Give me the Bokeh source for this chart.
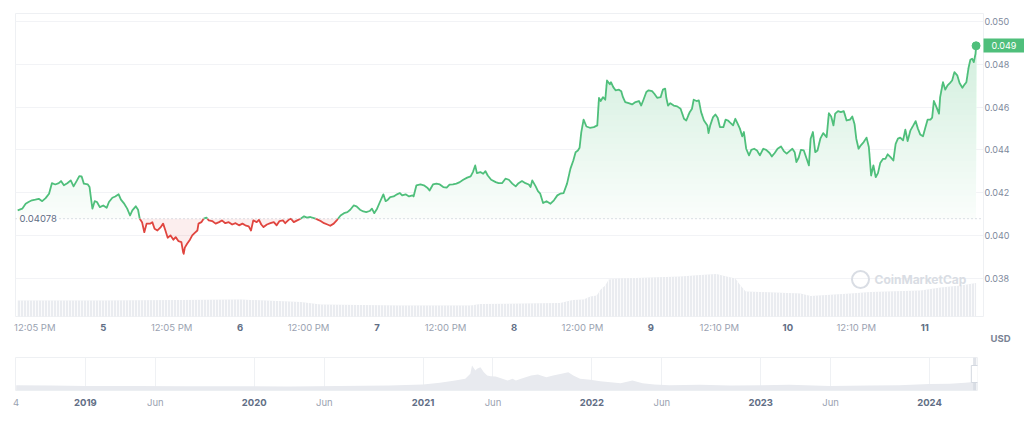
import numpy as np
from bokeh.plotting import figure
from bokeh.models import (Range1d, FixedTicker, Label, Span, NumeralTickFormatter,
                          LinearAxis, Grid, Title)
from bokeh.layouts import column
from bokeh.embed import file_html
from bokeh.resources import INLINE

FONT = "Inter"
GREEN = "#4fbf7b"
RED = "#e0453f"
LIGHT_TXT = "#9aa2b1"
DARK_TXT = "#616e85"

# ---- main chart data: hours since Apr 4 00:00, price in USD ----
hours = [
    9.0, 9.8, 10.4, 10.9, 11.5, 12.1, 12.7, 13.3, 13.9, 14.5,
    15.0, 15.6, 16.2, 16.6, 17.1, 17.7, 18.3, 18.8, 19.4, 19.8,
    20.2, 20.6, 21.3, 21.6, 21.9, 22.1, 22.5, 22.9, 23.4, 24.0,
    24.6, 25.0, 25.6, 26.1, 26.7, 27.1, 27.6, 28.2, 28.7, 29.1,
    29.7, 30.1, 30.4, 30.8, 31.2, 31.6, 32.2, 32.6, 33.0, 33.5,
    34.0, 34.5, 34.9, 35.3, 35.8, 36.3, 36.7, 37.2, 37.7, 38.0,
    38.1, 38.3, 38.7, 39.2, 39.6, 40.0, 40.5, 40.7, 41.2, 41.6,
    42.1, 42.5, 43.1, 43.7, 44.3, 44.8, 45.4, 46.0, 46.6, 47.2,
    47.8, 48.4, 48.9, 49.5, 49.9, 50.3, 50.9, 51.3, 51.7, 52.1,
    52.7, 53.3, 53.9, 54.4, 54.9, 55.5, 55.9, 56.5, 56.9, 57.4,
    58.0, 58.6, 59.2, 59.7, 60.3, 60.9, 61.5, 62.1, 62.7, 63.3,
    63.8, 64.4, 65.0, 65.6, 66.2, 66.8, 67.3, 67.9, 68.4, 69.0,
    69.6, 70.1, 70.7, 71.1, 71.5, 72.0, 72.5, 73.1, 73.5, 73.9,
    74.3, 74.9, 75.5, 76.0, 76.4, 77.0, 77.6, 78.2, 78.4, 78.9,
    79.6, 80.2, 80.8, 81.2, 81.8, 82.4, 83.0, 83.6, 84.2, 84.7,
    85.3, 85.9, 86.5, 87.1, 87.8, 88.4, 88.8, 89.2, 89.5, 90.1,
    90.6, 91.0, 91.4, 92.0, 92.8, 93.3, 93.9, 94.5, 95.1, 95.7,
    96.3, 96.8, 97.4, 98.0, 98.6, 98.9, 99.2, 99.8, 100.2, 100.6,
    101.1, 101.7, 102.4, 103.0, 103.6, 104.1, 104.7, 105.3, 105.9, 106.4,
    106.8, 107.2, 107.5, 107.8, 108.2, 108.7, 109.3, 110.0, 110.6, 110.9,
    111.2, 111.6, 112.0, 112.3, 112.8, 113.0, 113.4, 113.8, 114.4, 114.8,
    115.1, 115.5, 116.1, 116.7, 117.3, 117.9, 118.3, 118.7, 119.2, 119.6,
    120.2, 120.6, 121.1, 121.7, 122.1, 122.5, 122.7, 123.0, 123.4, 124.0,
    124.6, 125.2, 125.8, 126.2, 126.8, 127.2, 127.5, 128.0, 128.4, 128.8,
    129.3, 129.9, 130.1, 130.4, 130.9, 131.3, 131.7, 132.1, 132.7, 133.1,
    133.5, 133.8, 134.4, 134.8, 135.2, 135.6, 136.0, 136.3, 136.7, 137.2,
    137.6, 138.1, 138.6, 139.1, 139.7, 140.2, 140.8, 141.2, 141.7, 142.2,
    142.8, 143.3, 143.8, 144.3, 144.8, 145.2, 145.5, 145.9, 146.3, 146.8,
    147.3, 147.7, 148.0, 148.4, 148.8, 149.2, 149.7, 150.2, 150.8, 151.2,
    151.6, 152.0, 152.3, 152.8, 153.3, 153.8, 154.3, 154.9, 155.3, 155.7,
    156.0, 156.4, 156.8, 157.3, 157.8, 158.2, 158.6, 159.0, 159.4, 159.8,
    160.2, 160.7, 161.1, 161.5, 162.0, 162.5, 162.9, 163.3, 163.7, 164.2,
    164.6, 165.0, 165.5, 166.0, 166.4, 166.8, 167.2, 167.7, 168.1, 168.5,
    169.0, 169.3, 169.6, 170.0, 170.5, 170.7, 171.2, 171.6, 172.0, 172.4,
    172.8, 173.2, 173.7, 174.1, 174.6, 175.0, 175.3, 175.7, 176.0, 176.3,
    176.6, 176.9, 177.0,
]
price = [
    0.04117, 0.04125, 0.04148, 0.04156, 0.04164, 0.04167, 0.04171, 0.04160, 0.04174, 0.04195,
    0.04244, 0.04238, 0.04244, 0.04254, 0.04234, 0.04244, 0.04257, 0.04229, 0.04257, 0.04277,
    0.04276, 0.04242, 0.04238, 0.04226, 0.04164, 0.04125, 0.04160, 0.04156, 0.04132, 0.04140,
    0.04129, 0.04156, 0.04176, 0.04182, 0.04192, 0.04167, 0.04151, 0.04125, 0.04093, 0.04117,
    0.04136, 0.04120, 0.04078, 0.04062, 0.04015, 0.04055, 0.04055, 0.04062, 0.04031, 0.04023,
    0.04036, 0.04055, 0.04023, 0.03989, 0.04000, 0.03980, 0.03992, 0.03973, 0.03969, 0.03922,
    0.03914, 0.03943, 0.03961, 0.03980, 0.04000, 0.04011, 0.04023, 0.04055, 0.04062, 0.04078,
    0.04083, 0.04070, 0.04067, 0.04055, 0.04062, 0.04070, 0.04057, 0.04062, 0.04051, 0.04057,
    0.04047, 0.04055, 0.04047, 0.04042, 0.04023, 0.04070, 0.04062, 0.04073, 0.04051, 0.04039,
    0.04051, 0.04057, 0.04062, 0.04047, 0.04067, 0.04070, 0.04057, 0.04073, 0.04078, 0.04062,
    0.04070, 0.04078, 0.04089, 0.04083, 0.04086, 0.04081, 0.04075, 0.04067, 0.04057, 0.04051,
    0.04045, 0.04055, 0.04073, 0.04093, 0.04104, 0.04109, 0.04120, 0.04140, 0.04136, 0.04120,
    0.04112, 0.04109, 0.04114, 0.04125, 0.04104, 0.04125, 0.04156, 0.04192, 0.04160, 0.04167,
    0.04179, 0.04182, 0.04192, 0.04198, 0.04187, 0.04192, 0.04182, 0.04187, 0.04182, 0.04234,
    0.04238, 0.04234, 0.04223, 0.04210, 0.04238, 0.04242, 0.04238, 0.04226, 0.04223, 0.04237,
    0.04238, 0.04242, 0.04249, 0.04260, 0.04270, 0.04276, 0.04296, 0.04327, 0.04291, 0.04296,
    0.04288, 0.04300, 0.04280, 0.04260, 0.04249, 0.04244, 0.04244, 0.04265, 0.04260, 0.04242,
    0.04229, 0.04244, 0.04254, 0.04244, 0.04238, 0.04226, 0.04257, 0.04229, 0.04207, 0.04195,
    0.04151, 0.04160, 0.04148, 0.04164, 0.04187, 0.04195, 0.04198, 0.04242, 0.04312, 0.04350,
    0.04389, 0.04397, 0.04410, 0.04483, 0.04541, 0.04509, 0.04503, 0.04506, 0.04514, 0.04643,
    0.04628, 0.04646, 0.04634, 0.04724, 0.04706, 0.04716, 0.04693, 0.04678, 0.04681, 0.04674,
    0.04646, 0.04623, 0.04618, 0.04612, 0.04623, 0.04628, 0.04607, 0.04634, 0.04670, 0.04678,
    0.04674, 0.04662, 0.04643, 0.04646, 0.04681, 0.04686, 0.04643, 0.04607, 0.04618, 0.04607,
    0.04603, 0.04592, 0.04545, 0.04537, 0.04576, 0.04592, 0.04634, 0.04628, 0.04631, 0.04576,
    0.04537, 0.04514, 0.04478, 0.04514, 0.04553, 0.04565, 0.04550, 0.04506, 0.04506, 0.04541,
    0.04537, 0.04529, 0.04514, 0.04545, 0.04522, 0.04499, 0.04463, 0.04483, 0.04405, 0.04374,
    0.04400, 0.04405, 0.04397, 0.04374, 0.04405, 0.04400, 0.04385, 0.04369, 0.04385, 0.04405,
    0.04416, 0.04394, 0.04382, 0.04394, 0.04405, 0.04389, 0.04343, 0.04363, 0.04400, 0.04397,
    0.04358, 0.04327, 0.04452, 0.04483, 0.04389, 0.04397, 0.04452, 0.04478, 0.04459, 0.04571,
    0.04556, 0.04514, 0.04569, 0.04581, 0.04576, 0.04581, 0.04537, 0.04541, 0.04556, 0.04519,
    0.04452, 0.04405, 0.04421, 0.04436, 0.04457, 0.04413, 0.04280, 0.04327, 0.04272, 0.04291,
    0.04338, 0.04358, 0.04358, 0.04379, 0.04366, 0.04350, 0.04428, 0.04452, 0.04457, 0.04444,
    0.04494, 0.04441, 0.04491, 0.04514, 0.04534, 0.04499, 0.04472, 0.04463, 0.04503, 0.04541,
    0.04541, 0.04550, 0.04628, 0.04603, 0.04569, 0.04646, 0.04716, 0.04681, 0.04701, 0.04712,
    0.04724, 0.04763, 0.04748, 0.04712, 0.04690, 0.04706, 0.04716, 0.04786, 0.04821, 0.04826,
    0.04810, 0.04849, 0.04886,
]
open_price = 0.04078

# volume (millions USD, estimated)
vol_hours = [9.0, 23.5, 37.5, 48.1, 58.6, 62.1, 76.1, 88.4, 90.1, 104.1,
             106.3, 108.2, 109.4, 110.5, 111.2, 112.0, 112.6, 114.7, 119.9, 125.2,
             128.7, 131.5, 132.5, 134.8, 135.7, 136.6, 139.2, 146.2, 148.0, 155.0,
             158.5, 167.3, 170.8, 174.3, 177.0]
volume = [32, 32, 33, 34, 29, 24, 22, 22, 25, 27,
          33, 34, 40, 42, 54, 62, 74, 76, 78, 80,
          83, 85, 82, 76, 62, 50, 49, 46, 41, 46,
          49, 52, 58, 62, 67]

time_ticks = [12.0, 36.0, 60.0, 84.0, 108.0, 132.0, 156.0]
time_labels = ["12:05 PM", "12:05 PM", "12:00 PM", "12:00 PM", "12:00 PM", "12:10 PM", "12:10 PM"]
day_ticks = [24.0, 48.0, 72.0, 96.0, 120.0, 144.0, 168.0]
day_labels = ["5", "6", "7", "8", "9", "10", "11"]
price_ticks = [0.038, 0.040, 0.042, 0.044, 0.046, 0.048, 0.050]

# ---- navigator (full history, decimal years, price USD) ----
nav_years = [2018.59, 2018.80, 2019.00, 2019.30, 2019.60, 2019.90, 2020.20, 2020.50, 2020.80, 2021.00,
             2021.10, 2021.19, 2021.25, 2021.28, 2021.29, 2021.31, 2021.32, 2021.34, 2021.36, 2021.38,
             2021.40, 2021.43, 2021.47, 2021.50, 2021.53, 2021.55, 2021.58, 2021.64, 2021.68, 2021.73,
             2021.77, 2021.82, 2021.86, 2021.89, 2021.93, 2021.99, 2022.05, 2022.11, 2022.17, 2022.24,
             2022.30, 2022.37, 2022.46, 2022.64, 2022.82, 2023.00, 2023.17, 2023.41, 2023.64, 2023.82,
             2024.00, 2024.12, 2024.21, 2024.277]
nav_price = [0.029, 0.028, 0.026, 0.025, 0.024, 0.024, 0.023, 0.026, 0.028, 0.034,
             0.043, 0.056, 0.066, 0.094, 0.141, 0.113, 0.122, 0.131, 0.103, 0.084,
             0.080, 0.079, 0.066, 0.056, 0.066, 0.056, 0.066, 0.084, 0.090, 0.075,
             0.084, 0.094, 0.103, 0.084, 0.066, 0.060, 0.052, 0.047, 0.041, 0.056,
             0.041, 0.034, 0.030, 0.032, 0.028, 0.030, 0.032, 0.026, 0.028, 0.030,
             0.036, 0.038, 0.043, 0.049]
nav_edge_tick = [2018.59]
nav_edge_label = ["4"]
nav_jun_ticks = [2019.414, 2020.415, 2021.414, 2022.414, 2023.414]
nav_year_ticks = [2019.0, 2020.0, 2021.0, 2022.0, 2023.0, 2024.0]
nav_year_labels = ["2019", "2020", "2021", "2022", "2023", "2024"]


def quiet_axis(ax, size="9.5px", color=LIGHT_TXT, bold=False):
    ax.axis_line_color = None
    ax.major_tick_line_color = None
    ax.minor_tick_line_color = None
    ax.major_tick_out = 0
    ax.major_tick_in = 0
    ax.minor_tick_out = 0
    ax.major_label_text_font = FONT
    ax.major_label_text_font_size = size
    ax.major_label_text_color = color
    if bold:
        ax.major_label_text_font_style = "bold"


# ================= main chart =================
FW, FH = 968, 303
xr = Range1d(8.62, 178.3)
yr = Range1d(0.03621, 0.05037)
dxpp = (xr.end - xr.start) / FW
dypp = (yr.end - yr.start) / FH

p = figure(width=1024, height=348, x_range=xr, y_range=yr,
           output_backend="svg", toolbar_location=None, y_axis_location="right",
           min_border_left=15, min_border_right=41, min_border_top=13, min_border_bottom=32)
p.outline_line_color = "#eef0f3"
p.xgrid.grid_line_color = None
p.ygrid.grid_line_color = None
p.add_layout(Grid(dimension=1, ticker=FixedTicker(ticks=price_ticks), grid_line_color="#f2f3f6"))

# inner right axis: last-price tag (tick drawn as a green box)
tag_axis = p.yaxis[0]
quiet_axis(tag_axis, size="9px", color="white")
tag_axis.ticker = FixedTicker(ticks=[price[-1]])
tag_axis.formatter = NumeralTickFormatter(format="0.000")
tag_axis.major_tick_out = 41
tag_axis.major_tick_line_color = GREEN
tag_axis.major_tick_line_width = 14
tag_axis.major_tick_line_cap = "butt"
tag_axis.major_label_standoff = -33

# outer right axis: price scale
price_axis = LinearAxis(ticker=FixedTicker(ticks=price_ticks),
                        formatter=NumeralTickFormatter(format="0.000"))
quiet_axis(price_axis, size="9px", color="#808a9d")
price_axis.major_label_standoff = -35
p.add_layout(price_axis, "right")

# inner bottom axis: times
time_axis = p.xaxis[0]
quiet_axis(time_axis)
time_axis.ticker = FixedTicker(ticks=time_ticks)
time_axis.major_label_overrides = {t: l for t, l in zip(time_ticks, time_labels)}
time_axis.major_label_standoff = 5

# outer bottom axis: days (bold)
day_axis = LinearAxis(ticker=FixedTicker(ticks=day_ticks),
                      major_label_overrides={t: l for t, l in zip(day_ticks, day_labels)})
quiet_axis(day_axis, color=DARK_TXT, bold=True)
day_axis.major_label_standoff = -12
p.add_layout(day_axis, "below")

usd = Title(text="USD", align="right", offset=-27, text_font=FONT, text_font_size="9.5px",
            text_font_style="bold", text_color="#7a8394", standoff=-16)
p.add_layout(usd, "below")

# volume
p.extra_y_ranges = {"vol": Range1d(0, 606)}
p.varea(x=vol_hours, y1=0, y2=volume, y_range_name="vol", fill_color="#eaecf0",
        hatch_pattern="vertical_line", hatch_color="white", hatch_scale=3, hatch_weight=0.8)

# densify with baseline crossings
h = np.array(hours, dtype=float)
pr = np.array(price, dtype=float)
base = open_price
dx, dp = [h[0]], [pr[0]]
for i in range(len(h) - 1):
    a, b = pr[i] - base, pr[i + 1] - base
    if a * b < 0:
        t = a / (a - b)
        dx.append(h[i] + t * (h[i + 1] - h[i]))
        dp.append(base)
    dx.append(h[i + 1])
    dp.append(pr[i + 1])
dx = np.array(dx)
dp = np.array(dp)

# green gradient fill: opaque bands, each from its lower edge up to the line
g_rgb = np.array([int(GREEN[i:i + 2], 16) for i in (1, 3, 5)], dtype=float)
nb = 30
edges = np.linspace(base, dp.max(), nb + 1)
for k in range(nb):
    lo = edges[k]
    a = 0.03 + 0.23 * (lo - base) / (dp.max() - base)
    c = 255 - a * (255 - g_rgb)
    col = "#%02x%02x%02x" % tuple(int(round(v)) for v in c)
    p.varea(x=dx, y1=lo, y2=np.maximum(dp, lo), fill_color=col)

# red fill below baseline
p.varea(x=dx, y1=np.minimum(dp, base), y2=base, fill_color=RED, fill_alpha=0.09)

# baseline
p.add_layout(Span(location=base, dimension="width", line_color="#b7bec9",
                  line_dash="1 3", line_width=1))
p.add_layout(Label(x=xr.start + 4 * dxpp, y=base, text=f"{open_price:.5f}",
                   text_baseline="middle", text_align="left", text_font=FONT,
                   text_font_size="9.5px", text_color=DARK_TXT,
                   background_fill_color="white"))

# coloured line segments
segs_x, segs_y, cols = [], [], []
cur_x, cur_y, cur_up = [dx[0]], [dp[0]], None
for i in range(len(dx) - 1):
    up = (dp[i] + dp[i + 1]) / 2 >= base
    if cur_up is None:
        cur_up = up
    if up != cur_up:
        segs_x.append(cur_x); segs_y.append(cur_y); cols.append(GREEN if cur_up else RED)
        cur_x, cur_y, cur_up = [dx[i]], [dp[i]], up
    cur_x.append(dx[i + 1]); cur_y.append(dp[i + 1])
segs_x.append(cur_x); segs_y.append(cur_y); cols.append(GREEN if cur_up else RED)
p.multi_line(xs=segs_x, ys=segs_y, line_color=cols, line_width=1.8, line_join="round")

# last point
p.scatter(x=[hours[-1]], y=[price[-1]], size=8, color=GREEN)

# watermark
p.scatter(x=[xr.start + 845 * dxpp], y=[yr.start + 37 * dypp], size=17, marker="circle",
          fill_color=None, line_color="#d9dde4", line_width=2)
p.add_layout(Label(x=xr.start + 859 * dxpp, y=yr.start + 37 * dypp, text="CoinMarketCap",
                   text_align="left", text_baseline="middle", text_font=FONT,
                   text_font_size="12px", text_font_style="bold", text_color="#d9dde4"))

# ================= navigator =================
nxr = Range1d(2018.586, 2024.284)
nyr = Range1d(0, 0.186)

nav = figure(width=1018, height=68, x_range=nxr, y_range=nyr,
             output_backend="svg", toolbar_location=None,
             min_border_left=15, min_border_right=41, min_border_top=9, min_border_bottom=26)
nav.outline_line_color = "#eef0f3"
nav.yaxis.visible = False
nav.ygrid.grid_line_color = None
nav.xgrid.grid_line_color = None
nav.add_layout(Grid(dimension=0, ticker=FixedTicker(ticks=nav_jun_ticks + nav_year_ticks),
                    grid_line_color="#eff1f4"))

jun_axis = nav.xaxis[0]
quiet_axis(jun_axis)
jun_axis.ticker = FixedTicker(ticks=nav_edge_tick + nav_jun_ticks)
jo = {t: "Jun" for t in nav_jun_ticks}
jo.update({t: l for t, l in zip(nav_edge_tick, nav_edge_label)})
jun_axis.major_label_overrides = jo
jun_axis.major_label_standoff = 6

year_axis = LinearAxis(ticker=FixedTicker(ticks=nav_year_ticks),
                       major_label_overrides={t: l for t, l in zip(nav_year_ticks, nav_year_labels)})
quiet_axis(year_axis, color=DARK_TXT, bold=True)
year_axis.major_label_standoff = -12
nav.add_layout(year_axis, "below")

nav.varea(x=nav_years, y1=0, y2=nav_price, fill_color="#e8eaef")

sel_start = 2024 + (94 + hours[0] / 24) / 366
sel_end = 2024 + (94 + hours[-1] / 24) / 366
nav.quad(left=[sel_start], right=[sel_end], bottom=[nyr.start], top=[nyr.end],
         fill_color="#d3d7df", fill_alpha=0.7, line_color=None)
nav.rect(x=[sel_end], y=[(nyr.start + nyr.end) / 2], width=10, height=17,
         width_units="screen", height_units="screen", fill_color="white", line_color="#d3d8e0")

layout = column(p, nav, spacing=0)
open("out.html", "w").write(file_html(layout, INLINE))
